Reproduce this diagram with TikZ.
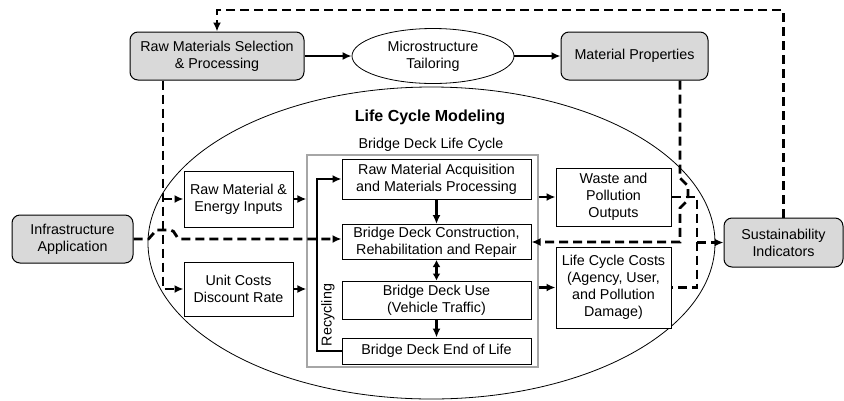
\documentclass[tikz,border=0pt]{standalone}
\usepackage{fontspec}
\setmainfont{Liberation Sans}
\usetikzlibrary{arrows.meta,shapes.geometric}
\definecolor{boxgray}{HTML}{D9D9D9}
\definecolor{framegray}{HTML}{A6A6A6}
\begin{document}
\begin{tikzpicture}[x=1pt,y=-1pt,
  every node/.style={font=\fontsize{14.3}{17}\selectfont, align=center, inner sep=0pt},
  graybox/.style={draw, line width=1pt, fill=boxgray, rounded corners=8pt},
  whitebox/.style={draw, line width=1pt, fill=white},
  solidarr/.style={line width=2.3pt, -{Latex[length=9pt,width=8pt]}},
  dashline/.style={line width=2.8pt, dash pattern=on 9pt off 5pt},
  dasharr/.style={dashline, -{Latex[length=9pt,width=8pt]}}
]
\useasboundingbox (0,0) rectangle (844,400);

% big ellipse
\node[draw, ellipse, line width=0.8pt, minimum width=567pt, minimum height=312pt] (lcm) at (431.5,243) {};
\node[font=\fontsize{16}{19}\selectfont\bfseries] (lcmlabel) at (430,117) {Life Cycle Modeling};

% top row
\node[graybox, minimum width=174pt, minimum height=48pt] (rms) at (217,56) {Raw Materials Selection\\\& Processing};
\node[draw, ellipse, line width=0.8pt, fill=white, minimum width=162pt, minimum height=55pt] (micro) at (433,56) {Microstructure\\Tailoring};
\node[graybox, minimum width=147pt, minimum height=48pt] (mp) at (634.5,56) {Material Properties};

% side boxes
\node[graybox, minimum width=121pt, minimum height=48pt] (infra) at (72.5,239) {Infrastructure\\Application};
\node[graybox, minimum width=119pt, minimum height=49pt] (sust) at (783.5,242.5) {Sustainability\\Indicators};

% frame
\node[draw=framegray, line width=1.2pt, minimum width=231pt, minimum height=212pt] (frame) at (422.5,261) {};
\node (bdlc) at (431,145) {Bridge Deck Life Cycle};

% inner boxes
\node[whitebox, minimum width=189pt, minimum height=40pt] (raq) at (436.5,179) {Raw Material Acquisition\\and Materials Processing};
\node[whitebox, minimum width=189pt, minimum height=35pt] (bdc) at (436.5,242) {Bridge Deck Construction,\\Rehabilitation and Repair};
\node[whitebox, minimum width=189pt, minimum height=38pt] (bdu) at (436.5,300) {Bridge Deck Use\\(Vehicle Traffic)};
\node[whitebox, minimum width=189pt, minimum height=26pt] (eol) at (436.5,351) {Bridge Deck End of Life};
\node[rotate=90] (recy) at (328,315) {Recycling};

% left boxes
\node[whitebox, minimum width=109pt, minimum height=56pt] (rme) at (238.5,199) {Raw Material \&\\Energy Inputs};
\node[whitebox, minimum width=109pt, minimum height=54pt] (uc) at (238.5,289) {Unit Costs\\Discount Rate};

% right boxes
\node[whitebox, minimum width=115pt, minimum height=58pt] (wpo) at (613.5,197) {Waste and\\Pollution\\Outputs};
\node[whitebox, minimum width=115pt, minimum height=81pt] (lcc) at (613.5,287.5) {Life Cycle Costs\\(Agency, User,\\and Pollution\\Damage)};

% helper coordinates
\coordinate (topline) at (0,10);
\coordinate (vx) at (163,0);
\coordinate (mx) at (680,0);
\coordinate (rx) at (697,0);
\coordinate (recx) at (317,0);

% solid arrows
\draw[solidarr] (rms.east) -- (micro.west);
\draw[solidarr] (micro.east) -- (mp.west);
\draw[solidarr] (raq.south) -- (bdc.north);
\draw[line width=2.3pt, {Latex[length=7pt,width=8pt]}-{Latex[length=7pt,width=8pt]}] (bdc.south) -- (bdu.north);
\draw[solidarr] (bdu.south) -- (eol.north);
\draw[solidarr] (eol.west) -- (eol.west -| recx) -- (raq.west -| recx) -- (raq.west);
\draw[solidarr] (rme.east) -- (rme.east -| frame.west);
\draw[solidarr] (uc.east) -- (uc.east -| frame.west);
\draw[solidarr] (frame.east |- wpo.west) -- (wpo.west);
\draw[solidarr] (frame.east |- lcc.west) -- (lcc.west);

% dashed connectors
\draw[dasharr] (sust.north) -- (sust.north |- topline) -- (rms.north |- topline) -- (rms.north);
\draw[dasharr] (rms.south -| vx) -- (uc.west -| vx) -- (uc.west);
\draw[dasharr] (rme.west -| vx) -- (rme.west);
\draw[dasharr] (infra.east) -- ++(15,0) -- ++(8,-9) -- ++(14,0)
   .. controls +(5,0) and +(-5,0) .. ++(10,9) -- (infra.east -| bdc.west);
\draw[dasharr] (mp.south -| mx) -- ([yshift=19pt]wpo.east -| mx) -- ++(8,8) -- ++(0,14) -- ++(-8,8)
   -- (bdc.east -| mx) -- (bdc.east);
\draw[dashline] (wpo.east) -- (wpo.east -| rx) -- (lcc.east -| rx) -- (lcc.east);
\draw[dasharr] (sust.west -| rx) -- (sust.west);
\end{tikzpicture}
\end{document}
